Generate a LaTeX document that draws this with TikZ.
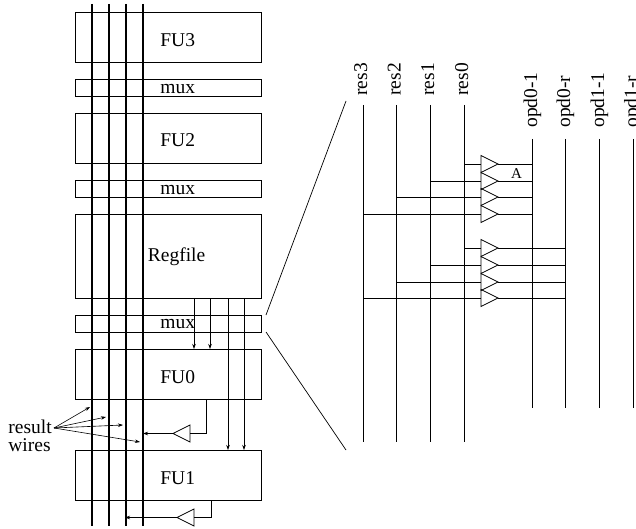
\documentclass[tikz,border=0pt]{standalone}
\usepackage{fontspec}
\setmainfont{Liberation Serif}
\usetikzlibrary{arrows.meta,shapes.geometric}
\tikzset{
  unitbox/.style={draw,anchor=north west,inner sep=0pt,outer sep=0pt,minimum width=186pt},
  boxtext/.style={anchor=base west,inner sep=0pt,font=\fontsize{19.5}{21}\selectfont},
  wirename/.style={anchor=base west,rotate=90,inner sep=0pt,font=\fontsize{19.5}{21}\selectfont},
  buffer/.style={draw,isosceles triangle,isosceles triangle stretches,anchor=apex,minimum height=17pt,minimum width=17pt,inner sep=0pt,outer sep=0pt},
  tap/.style={-{Stealth[length=5pt,width=3.5pt]},semithick},
}
\begin{document}
\begin{tikzpicture}[x=1pt,y=-1pt,line width=0.7pt]
    \useasboundingbox (0,0) rectangle (636,529);
    % left column
    \node[unitbox,minimum height=50pt] (fu3) at (75,12) {};
    \node[unitbox,minimum height=17pt] (muxa) at (75,79.5) {};
    \node[unitbox,minimum height=50pt] (fu2) at (75,113) {};
    \node[unitbox,minimum height=17pt] (muxb) at (75,180) {};
    \node[unitbox,minimum height=84pt] (regfile) at (75,214) {};
    \node[unitbox,minimum height=17pt] (muxc) at (75,315) {};
    \node[unitbox,minimum height=50pt] (fu0) at (75,349) {};
    \node[unitbox,minimum height=50pt] (fu1) at (75,450) {};
    \node[boxtext] (fu3text) at (160,46.5) {FU3};
    \node[boxtext] (muxatext) at (160,94) {mux};
    \node[boxtext] (fu2text) at (160,147) {FU2};
    \node[boxtext] (muxbtext) at (160,195) {mux};
    \node[boxtext] (regtext) at (147.5,261) {Regfile};
    \node[boxtext] (muxctext) at (160,328) {mux};
    \node[boxtext] (fu0text) at (160,383.5) {FU0};
    \node[boxtext] (fu1text) at (160,484.5) {FU1};
    % result wires
    \foreach \n/\x in {a/92,b/109,c/126,d/143}{
      \coordinate (top\n) at (\x,4);
      \coordinate (bot\n) at (\x,526);
      \draw[line width=1.2pt] (top\n)--(bot\n);
    }
    % register file outputs
    \foreach \n/\x in {a/194,b/210}{
      \coordinate (rf\n) at (\x,298);
      \coordinate (in\n) at (\x,349);
      \draw[tap] (rf\n)--(in\n);
    }
    \foreach \n/\x in {c/228,d/244}{
      \coordinate (rf\n) at (\x,298);
      \coordinate (in\n) at (\x,450);
      \draw[tap] (rf\n)--(in\n);
    }
    % FU outputs
    \node[buffer,shape border rotate=180] (bufa) at (173,433.5) {};
    \node[buffer,shape border rotate=180] (bufb) at (177,517.5) {};
    \coordinate (fu0out) at (206,399.5);
    \coordinate (fu1out) at (211,500.5);
    \coordinate (hita) at (143,433.5);
    \coordinate (hitb) at (125,517.5);
    \draw (fu0out) |- (bufa.lower side);
    \draw (fu1out) |- (bufb.lower side);
    \draw[tap] (bufa.apex)--(hita);
    \draw[tap] (bufb.apex)--(hitb);
    % label for the wires
    \node[boxtext] (resulttext) at (8,433) {result};
    \node[boxtext] (wirestext) at (8,451) {wires};
    \coordinate (fan) at (54,428);
    \foreach \n/\x/\y in {a/90/407,b/106/417,c/123/425,d/140/442}{
      \coordinate (end\n) at (\x,\y);
      \draw[tap] (fan)--(end\n);
    }
    % blow-up lines
    \coordinate (zooma) at (266,315);
    \coordinate (zoomb) at (346,101);
    \coordinate (zoomc) at (266,332);
    \coordinate (zoomd) at (346,450);
    \draw (zooma)--(zoomb);
    \draw (zoomc)--(zoomd);
    % crossbar
    \foreach \n/\x in {3/363,2/396,1/430,0/464}{
      \coordinate (res\n-top) at (\x,105);
      \coordinate (res\n-bot) at (\x,441.5);
      \draw (res\n-top)--(res\n-bot);
    }
    \node[wirename] (res3text) at (367,96) {res3};
    \node[wirename] (res2text) at (400.5,96) {res2};
    \node[wirename] (res1text) at (434,96) {res1};
    \node[wirename] (res0text) at (468,96) {res0};
    \foreach \n/\x in {a/532,b/565,c/599,d/633}{
      \coordinate (opd\n-top) at (\x,139);
      \coordinate (opd\n-bot) at (\x,407.5);
      \draw (opd\n-top)--(opd\n-bot);
    }
    \node[wirename] (opdatext) at (537,128) {opd0-1};
    \node[wirename] (opdbtext) at (570,128) {opd0-r};
    \node[wirename] (opdctext) at (604,128) {opd1-1};
    \node[wirename] (opddtext) at (637.5,128) {opd1-r};
    \foreach \k/\y/\r in {a/164/0,b/181/1,c/197/2,d/214/3}{
      \node[buffer] (buf\k) at (498,\y) {};
      \coordinate (tapl\k) at (res\r-top |- buf\k.apex);
      \coordinate (tapr\k) at (opda-top |- buf\k.apex);
      \draw (tapl\k)--(buf\k.lower side);
      \draw (buf\k.apex)--(tapr\k);
    }
    \foreach \k/\y/\r in {e/248/0,f/265/1,g/282/2,h/298/3}{
      \node[buffer] (buf\k) at (498,\y) {};
      \coordinate (tapl\k) at (res\r-top |- buf\k.apex);
      \coordinate (tapr\k) at (opdb-top |- buf\k.apex);
      \draw (tapl\k)--(buf\k.lower side);
      \draw (buf\k.apex)--(tapr\k);
    }
    \node[inner sep=0pt,font=\fontsize{15}{17}\selectfont] (atext) at (516.5,173.5) {A};
\end{tikzpicture}
\end{document}
